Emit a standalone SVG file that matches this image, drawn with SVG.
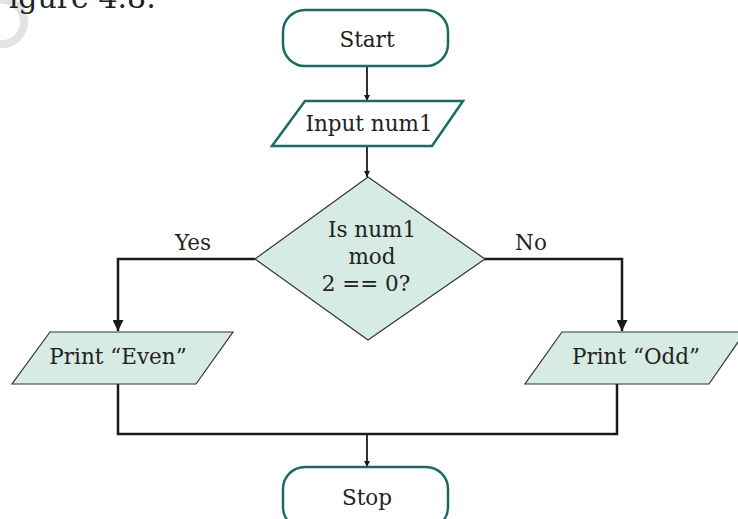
<svg xmlns="http://www.w3.org/2000/svg" width="738" height="519" viewBox="0 0 738 519">
<defs>
<style>
text{font-family:"DejaVu Serif","Liberation Serif",serif;fill:#222;text-anchor:middle;font-size:21.5px}
.t{fill:#fff;stroke:#1b6b62;stroke-width:2.5}
.g{fill:#d6ebe3;stroke:#333;stroke-width:1.2}
.c{fill:none;stroke:#1a1a1a;stroke-width:2.5}
.c2{fill:none;stroke:#1a1a1a;stroke-width:1.8}
</style>
<marker id="a" viewBox="0 0 10 10" refX="10" refY="5" markerWidth="6" markerHeight="6" markerUnits="userSpaceOnUse" orient="auto"><path d="M0,0L10,5L0,10z" fill="#1a1a1a"/></marker>
<marker id="b" viewBox="0 0 10 10" refX="10" refY="5" markerWidth="12" markerHeight="11" markerUnits="userSpaceOnUse" orient="auto"><path d="M0,0L10,5L0,10z" fill="#1a1a1a"/></marker>
</defs>
<circle cx="2" cy="22" r="22" fill="none" stroke="#e3e3e3" stroke-width="8"/>
<text x="72" y="8" style="font-size:30px">Figure 4.8:</text>
<g id="connectors">
<line class="c2" x1="367" y1="66" x2="367" y2="101" marker-end="url(#a)"/>
<line class="c2" x1="367" y1="146" x2="367" y2="177" marker-end="url(#a)"/>
<polyline class="c" points="255,259 118,259 118,331" marker-end="url(#b)"/>
<polyline class="c" points="484,259 622,259 622,331" marker-end="url(#b)"/>
<polyline class="c" points="118,384 118,434 617,434 617,384"/>
<line class="c2" x1="367" y1="434" x2="367" y2="467" marker-end="url(#a)"/>
<text x="193" y="250">Yes</text>
<text x="531" y="250">No</text>
</g>
<g id="start"><rect class="t" x="283" y="10" width="165" height="56" rx="22"/><text x="367" y="47">Start</text></g>
<g id="input"><polygon class="t" points="305,101 463,101 432,146 272,146"/><text x="369" y="131">Input num1</text></g>
<g id="decision"><polygon class="g" points="368,177 485,259 368,340 255,259"/><text x="372" y="237">Is num1</text><text x="372" y="264">mod</text><text x="366" y="291">2 == 0?</text></g>
<g id="even"><polygon class="g" points="50,332 233,332 196,384 12,384"/><text x="118" y="364">Print “Even”</text></g>
<g id="odd"><polygon class="g" points="562,332 745,332 709,384 525,384"/><text x="636" y="364">Print “Odd”</text></g>
<g id="stop"><rect class="t" x="283" y="467" width="165" height="62" rx="22"/><text x="367" y="505">Stop</text></g>
</svg>
